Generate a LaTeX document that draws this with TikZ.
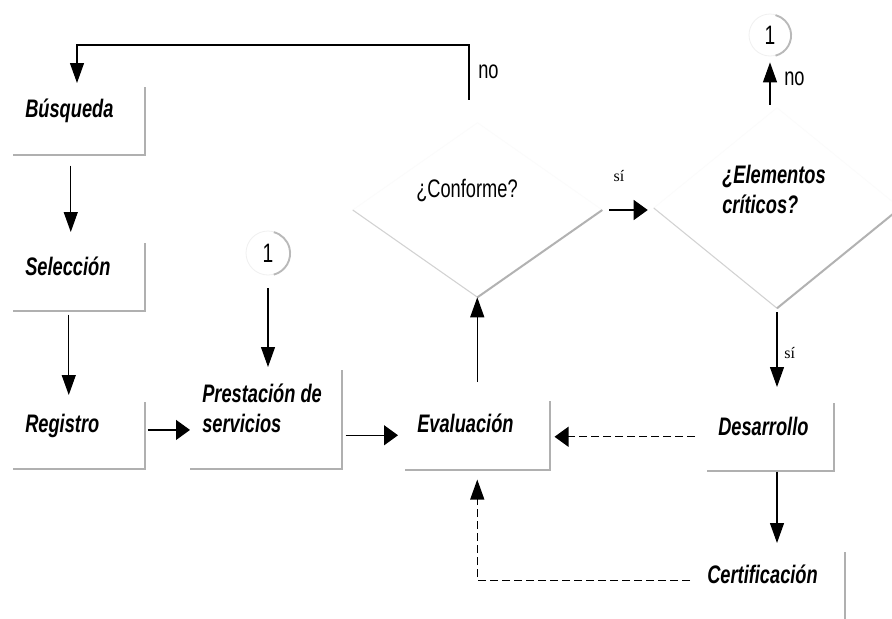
\documentclass[tikz,border=0pt]{standalone}
\usepackage{fontspec}
\usetikzlibrary{arrows.meta,shapes.geometric}
\newfontfamily\lblfont{Liberation Sans}[FakeStretch=0.72]
\newfontfamily\sifont{Liberation Serif}

\tikzset{
  procbox/.style={rectangle, anchor=north west, inner xsep=9pt, inner ysep=0pt,
    align=flush left, font=\lblfont\bfseries\itshape\fontsize{19pt}{22.5pt}\selectfont},
  shadowedge/.style={draw=gray!62, line width=1.5pt},
  decision/.style={diamond, inner sep=0pt},
  dtop/.style={draw=gray!3, line width=0.6pt},
  dleft/.style={draw=gray!35, line width=0.8pt},
  dright/.style={draw=gray!60, line width=1.5pt},
  question/.style={inner sep=0pt, font=\lblfont\fontsize{19pt}{22.5pt}\selectfont},
  boldq/.style={inner sep=0pt, align=flush left,
    font=\lblfont\bfseries\itshape\fontsize{19pt}{22.5pt}\selectfont},
  small/.style={inner sep=0pt, font=\lblfont\fontsize{19pt}{20pt}\selectfont},
  siword/.style={inner sep=0pt, font=\sifont\fontsize{12pt}{14pt}\selectfont},
  connector/.style={circle, inner sep=0pt, fill=white, draw=gray!12, line width=0.6pt,
    font=\lblfont\fontsize{20pt}{20pt}\selectfont},
  connarc/.style={draw=gray!55, line width=1.4pt},
  vArr/.style={draw=black, line width=0.9pt, -{Triangle[length=15pt,width=10.5pt]}},
  hArr/.style={draw=black, line width=0.9pt, -{Triangle[length=10.5pt,width=15pt]}},
  dashline/.style={dash pattern=on 6pt off 3pt},
}

\begin{document}
\begin{tikzpicture}[x=0.75pt,y=-0.75pt]
  \fill[white] (0,0) rectangle (892,618);
  \useasboundingbox (0,0) rectangle (892,618);

  % process boxes (text top-left, shadow on right and bottom)
  \node[procbox, text width=80.25pt, text height=22.5pt, text depth=27.75pt] (bus) at (13,87) {Búsqueda};
  \node[procbox, text width=80.25pt, text height=24pt, text depth=26.25pt] (sel) at (13,243) {Selección};
  \node[procbox, text width=80.25pt, text height=22.5pt, text depth=27pt] (reg) at (13,402) {Registro};
  \node[procbox, text width=95.25pt, text height=24pt, text depth=49.5pt] (pre) at (190,370) {Prestación de\\servicios};
  \node[procbox, text width=90pt, text height=23.25pt, text depth=27.75pt] (eva) at (405,401) {Evaluación};
  \node[procbox, text width=78pt, text height=24pt, text depth=26.25pt, inner xsep=8.25pt] (des) at (707,403) {Desarrollo};
  \node[procbox, text width=93.75pt, text height=23.25pt, text depth=31.5pt] (cert) at (695,552) {Certificación};

  \foreach \b in {bus,sel,reg,pre,eva,des,cert}
    \draw[shadowedge] (\b.north east) |- (\b.south west);

  % decisions
  \node[decision, minimum width=186.75pt, minimum height=130.5pt] (d1) at (477.5,210) {};
  \node[decision, minimum width=184.5pt, minimum height=150pt] (d2) at (777,208) {};
  \foreach \d in {d1,d2}{
    \draw[dtop] (\d.west) -- (\d.north) -- (\d.east);
    \draw[dleft] (\d.west) -- (\d.south);
    \draw[dright] (\d.south) -- (\d.east);
  }
  \node[question, anchor=base] (q1) at ([xshift=-7.9pt,yshift=9.75pt]d1.center) {¿Conforme?};
  \node[boldq, anchor=base west, text width=84pt] (q2) at ([xshift=-41.25pt,yshift=18.75pt]d2.center) {¿Elementos\\críticos?};

  % off-page connectors
  \node[connector, minimum size=33pt] (c1) at (268,253) {1};
  \node[connector, minimum size=31.5pt] (c2) at (770,35) {1};
  \draw[connarc] (c1.-75) arc[start angle=-75, end angle=75, radius=16.5pt];
  \draw[connarc] (c2.-75) arc[start angle=-75, end angle=75, radius=15.75pt];

  % flow
  \coordinate (cornerTL) at (77,45);
  \draw[vArr, shorten >=3pt] ([xshift=-6.4pt,yshift=17.25pt]d1.north) |- (cornerTL) -- (cornerTL |- bus.north);
  \draw[vArr, shorten <=8.25pt, shorten >=8.25pt] ([xshift=-6pt]bus.south) -- ([xshift=-6pt]sel.north);
  \draw[vArr, shorten <=3pt, shorten >=5.25pt] ([xshift=-7.5pt]sel.south) -- ([xshift=-7.5pt]reg.north);
  \draw[hArr, shorten <=2.25pt] ([yshift=4pt]reg.east) -- ([yshift=4pt]reg.east -| pre.west);
  \draw[vArr, shorten <=9.75pt, shorten >=2.25pt] (c1.south) -- (c1.south |- pre.north);
  \draw[hArr, shorten <=3pt, shorten >=5.25pt] (pre.east |- eva.west) -- (eva.west);
  \draw[vArr, shorten <=14.25pt] (eva.north) -- (eva.north |- d1.south);
  \draw[hArr, shorten <=5.25pt, shorten >=4.5pt] (d1.east) -- (d1.east -| d2.west);
  \draw[vArr, shorten <=2.25pt, shorten >=4.5pt] (c2.south |- d2.north) -- (c2.south);
  \draw[vArr, shorten <=3pt, shorten >=12pt] (d2.south) -- (d2.south |- des.north);
  \draw[vArr, shorten <=0.75pt, shorten >=6.75pt] (d2.south |- des.south) -- (d2.south |- cert.north);
  \draw[hArr, dashline, shorten <=9pt, shorten >=3.75pt] (des.west) -- (des.west -| eva.east);
  \draw[vArr, dashline, shorten <=3.75pt, shorten >=7.5pt] (cert.mid west) -| (eva.south);

  % branch labels
  \node[small, anchor=west] (noA) at (478,72) {no};
  \node[small, anchor=west] (noB) at (784,79) {no};
  \node[siword, anchor=base] (siA) at (619,181) {sí};
  \node[siword, anchor=base west] (siB) at (784,358) {sí};
\end{tikzpicture}
\end{document}
